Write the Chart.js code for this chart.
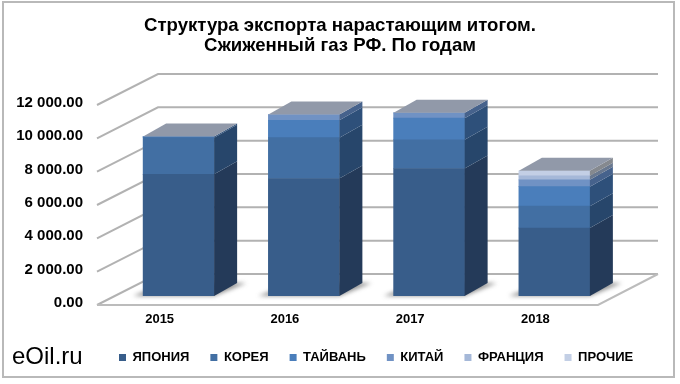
<!DOCTYPE html>
<html>
<head>
<meta charset="utf-8">
<style>
  html, body { margin: 0; padding: 0; background: #fff; }
  canvas { display: block; }
</style>
<script src="https://cdn.jsdelivr.net/npm/chart.js@4"></script>
</head>
<body>
<canvas id="myChart" width="680" height="384"></canvas>
<script>
// Данные графика
const years = ["2015", "2016", "2017", "2018"];
const japan = [7300, 7050, 7650, 4080];
const korea = [2200, 2450, 1725, 1310];
const taiwan = [70, 1045, 1295, 1170];
const china = [0, 345, 320, 410];
const france = [0, 0, 0, 240];
const others = [0, 0, 0, 305];
const yTicks = [0, 2000, 4000, 6000, 8000, 10000, 12000];

const seriesNames = ["ЯПОНИЯ", "КОРЕЯ", "ТАЙВАНЬ", "КИТАЙ", "ФРАНЦИЯ", "ПРОЧИЕ"];
const seriesValues = [japan, korea, taiwan, china, france, others];
const frontColors = ["#385d8a", "#426fa3", "#4a7ebb", "#7092c4", "#a5b8d8", "#c3cfe5"];
const sideColors = ["#243a59", "#27466b", "#2e507a", "#46628c", "#69788f", "#85898f"];
const topColor = "#9199a9";

// Смещения псевдо-3D относительно плоскости столбцов
const barDepth = { x: 23, y: 13 };
const wallShift = { x: 42, y: 22 };
const floorShift = { x: 19, y: 9 };

function poly(c, pts) {
  c.beginPath();
  c.moveTo(pts[0][0], pts[0][1]);
  for (let i = 1; i < pts.length; i++) c.lineTo(pts[i][0], pts[i][1]);
  c.closePath();
}

const scene3d = {
  id: "scene3d",
  afterLayout(chart) {
    chart.legend.left = 98;
    chart.legend.right = 680;
    chart.legend.top = 330;
  },
  beforeDraw(chart) {
    const c = chart.ctx;
    c.save();
    c.strokeStyle = "#b9b9b9";
    c.lineWidth = 2;
    c.strokeRect(3, 2, 671, 375);
    c.fillStyle = "#000";
    c.font = "24px 'Liberation Sans'";
    c.textBaseline = "alphabetic";
    c.fillText("eOil.ru", 12, 364);
    c.restore();
  },
  beforeDatasetsDraw(chart) {
    const c = chart.ctx;
    const a = chart.chartArea;
    const y = chart.scales.y;
    c.save();
    const fl = a.left - floorShift.x, fr = a.right - floorShift.x;
    const fb = a.bottom + floorShift.y;
    const bl = a.left + wallShift.x, br = a.right + wallShift.x - 1;
    const bb = a.bottom - wallShift.y;
    c.strokeStyle = "#b2b2b2";
    c.lineWidth = 2;
    yTicks.forEach((v) => {
      const p = y.getPixelForValue(v);
      c.beginPath();
      c.moveTo(fl, p + floorShift.y);
      c.lineTo(bl, p - wallShift.y);
      c.lineTo(br, p - wallShift.y);
      c.stroke();
    });
    // Пол
    c.strokeStyle = "#bcbcbc";
    c.beginPath();
    c.moveTo(fl, fb);
    c.lineTo(fr, fb);
    c.lineTo(br, bb);
    c.stroke();
    // Тени под столбцами
    const meta = chart.getDatasetMeta(0);
    c.filter = "blur(2px)";
    c.fillStyle = "rgba(70,70,70,0.6)";
    meta.data.forEach((el) => {
      const l = el.x - el.width / 2, r = el.x + el.width / 2;
      poly(c, [[l - 10, el.base], [r, el.base], [r + barDepth.x + 9, el.base - barDepth.y], [l + barDepth.x, el.base - barDepth.y]]);
      c.fill();
    });
    c.restore();
  },
  afterDatasetsDraw(chart) {
    const c = chart.ctx;
    c.save();
    years.forEach((year, i) => {
      let topEl = null;
      seriesValues.forEach((vals, s) => {
        if (!vals[i]) return;
        const el = chart.getDatasetMeta(s).data[i];
        const r = el.x + el.width / 2;
        c.fillStyle = sideColors[s];
        poly(c, [[r, el.y], [r + barDepth.x, el.y - barDepth.y], [r + barDepth.x, el.base - barDepth.y], [r, el.base]]);
        c.fill();
        topEl = el;
      });
      const l = topEl.x - topEl.width / 2, r = topEl.x + topEl.width / 2;
      c.fillStyle = topColor;
      poly(c, [[l, topEl.y], [r, topEl.y], [r + barDepth.x, topEl.y - barDepth.y], [l + barDepth.x, topEl.y - barDepth.y]]);
      c.fill();
    });
    c.restore();
  },
};

new Chart(document.getElementById("myChart").getContext("2d"), {
  type: "bar",
  data: {
    labels: years,
    datasets: seriesNames.map((name, s) => ({
      label: name,
      data: seriesValues[s],
      backgroundColor: frontColors[s],
      borderWidth: 0,
      barThickness: 71,
    })),
  },
  plugins: [scene3d],
  options: {
    responsive: false,
    animation: false,
    layout: { padding: 0 },
    plugins: {
      title: {
        display: true,
        text: ["Структура экспорта нарастающим итогом.", "Сжиженный газ РФ. По годам"],
        color: "#000",
        font: { family: "'Liberation Sans'", size: 18.6, weight: "bold", lineHeight: 1.075 },
        padding: { top: 16, bottom: 40 },
      },
      legend: {
        position: "bottom",
        align: "start",
        labels: {
          color: "#000",
          font: { family: "'Liberation Sans'", size: 13, weight: "bold" },
          boxWidth: 7,
          boxHeight: 7,
          padding: 21,
        },
      },
      tooltip: { enabled: false },
    },
    scales: {
      x: {
        stacked: true,
        afterFit(scale) { scale.height = 44; },
        grid: { display: false },
        border: { display: false },
        ticks: {
          color: "#000",
          font: { family: "'Liberation Sans'", size: 13, weight: "bold" },
          labelOffset: -19,
          padding: 8,
          maxRotation: 0,
        },
      },
      y: {
        stacked: true,
        min: 0,
        max: 12000,
        afterFit(scale) { scale.width = 116; },
        afterBuildTicks(scale) { scale.ticks = yTicks.map((v) => ({ value: v })); },
        grid: { display: false },
        border: { display: false },
        ticks: {
          color: "#000",
          font: { family: "'Liberation Sans'", size: 15, weight: "bold" },
          labelOffset: 7,
          padding: 25,
          callback: (v) => v.toFixed(2).replace(/\B(?=(\d{3})+(?!\d))/, " "),
        },
      },
      // Пустая ось справа: только резервирует место
      spacer: {
        position: "right",
        afterFit(scale) { scale.width = 63; },
        grid: { display: false },
        border: { display: false },
        ticks: { display: false },
      },
    },
  },
});
</script>
</body>
</html>
